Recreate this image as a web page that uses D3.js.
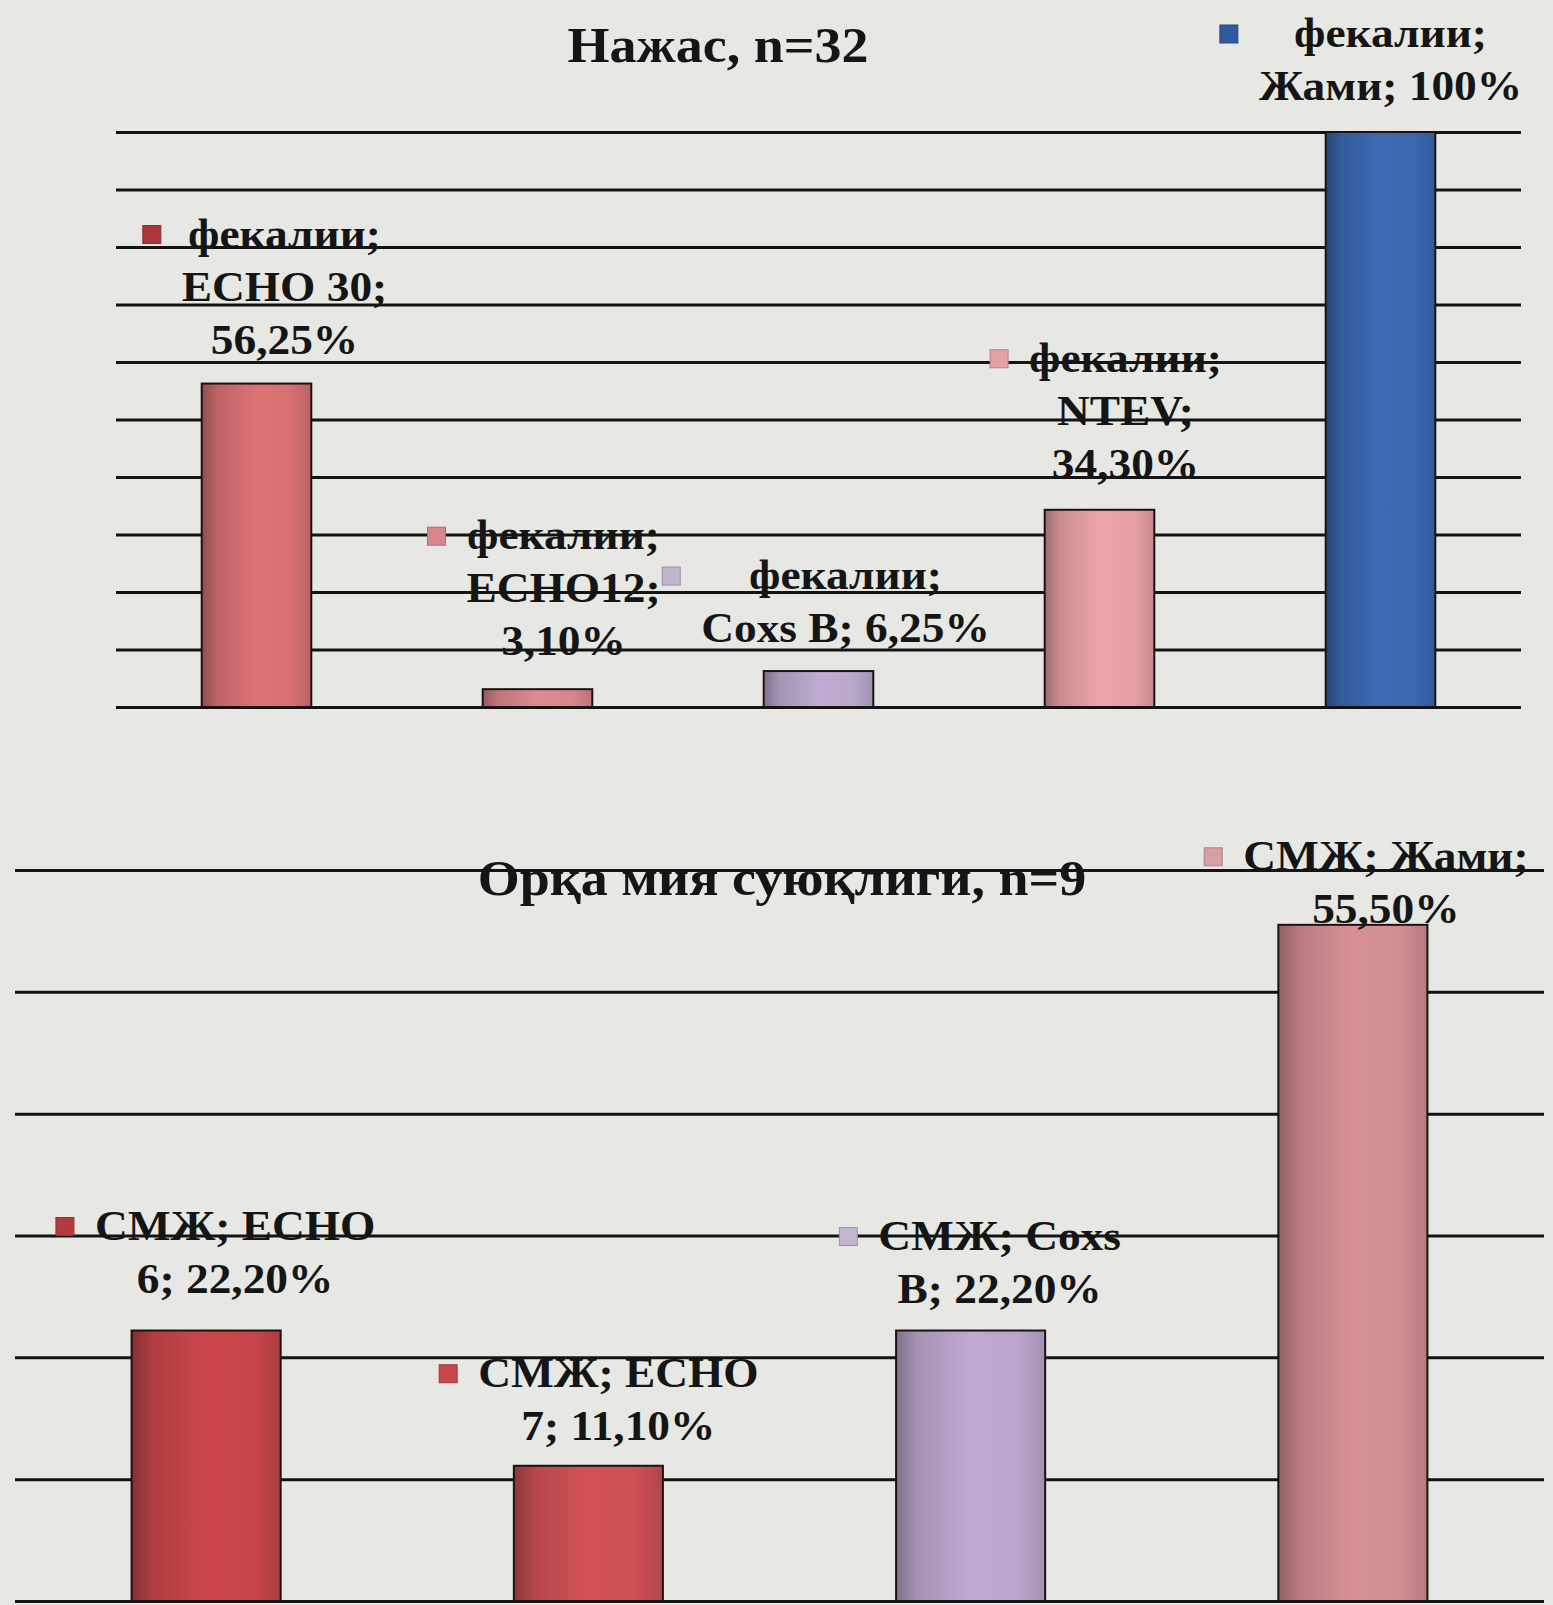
<!DOCTYPE html>
<html>
<head>
<meta charset="utf-8">
<script src="https://cdn.jsdelivr.net/npm/d3@7"></script>
<style>
  html, body { margin: 0; padding: 0; background: #e7e8e3; }
  svg { display: block; }
</style>
</head>
<body>
<svg id="chart" width="1553" height="1605"></svg>
<script>
// Stool samples, n=32
const stoolTitle = "Нажас, n=32";
const stoolSeries = "фекалии";
const stoolCategories = ["ECHO 30", "ECHO12", "Coxs B", "NTEV", "Жами"];
const stoolValues = [56.25, 3.10, 6.25, 34.30, 100];
const stoolTicks = [0, 10, 20, 30, 40, 50, 60, 70, 80, 90, 100];

// Cerebrospinal fluid, n=9
const csfTitle = "Орқа мия суюқлиги, n=9";
const csfSeries = "СМЖ";
const csfCategories = ["ECHO 6", "ECHO 7", "Coxs B", "Жами"];
const csfValues = [22.20, 11.10, 22.20, 55.50];
const csfTicks = [0, 10, 20, 30, 40, 50, 60];

// bar colours and legend-key colours
const stoolColors = ["#d77072", "#d8868c", "#b9a7cc", "#e5a0a4", "#3a67ae"];
const stoolKeyColors = ["#a8383a", "#d8868c", "#c0b4d0", "#e5a0a4", "#2f5aa0"];
const csfColors = ["#c6454a", "#cc5055", "#bba5cd", "#d18d92"];
const csfKeyColors = ["#b23a40", "#c8464c", "#c4b4d2", "#d8a0a4"];

// words per label line, label offset from bar centre, and last baseline above bar top
const stoolLabelLayout = [
  { words: [1, 2, 1], dx: 28, dy: -30 },
  { words: [1, 1, 1], dx: 26, dy: -34 },
  { words: [1, 3], dx: 27, dy: -29 },
  { words: [1, 1, 1], dx: 26, dy: -32 },
  { words: [1, 2], dx: 10, dy: -32 }
];
const csfLabelLayout = [
  { words: [2, 2], dx: 29, dy: -38 },
  { words: [2, 2], dx: 30, dy: -26 },
  { words: [2, 2], dx: 29, dy: -28 },
  { words: [2, 1], dx: 33, dy: -2 }
];

const FONT = "'Liberation Serif', 'Times New Roman', serif";
const LABEL_SIZE = 42;
const TITLE_SIZE = 50;
const STRETCH = 1.08;
const LINE_H = 53;

const svg = d3.select("#chart");
const defs = svg.append("defs");

function fmtPct(v) {
  return Number.isInteger(v) ? v + "%" : v.toFixed(2).replace(".", ",") + "%";
}

function drawPanel(cfg) {
  const x = d3.scaleBand().domain(cfg.categories).range([cfg.x0, cfg.x1]).padding(0);
  const y = d3.scaleLinear().domain([0, cfg.max]).range([cfg.yBase, cfg.yTop]);
  const bw = x.bandwidth() * 0.39;
  const g = svg.append("g");

  // horizontal gridlines
  const grid = g.append("g")
    .attr("transform", `translate(${cfg.x0},0)`)
    .call(d3.axisLeft(y).tickValues(cfg.ticks).tickSize(-(cfg.x1 - cfg.x0)).tickFormat(""));
  grid.select(".domain").remove();
  grid.selectAll(".tick line").attr("stroke", "#141414").attr("stroke-width", 3);

  // cylinder-like shading for each bar
  cfg.colors.forEach((c, i) => {
    const base = d3.color(c);
    const grad = defs.append("linearGradient")
      .attr("id", `${cfg.id}-grad-${i}`)
      .attr("x1", "0%").attr("x2", "100%").attr("y1", "0%").attr("y2", "0%");
    [[0, base.darker(1.1)], [0.14, base.darker(0.35)], [0.5, base.brighter(0.08)],
     [0.82, base], [1, base.darker(0.4)]].forEach(([o, col]) => {
      grad.append("stop").attr("offset", o).attr("stop-color", col.formatHex());
    });
  });

  // bars
  g.append("g").selectAll("rect")
    .data(cfg.values)
    .join("rect")
    .attr("x", (d, i) => x(cfg.categories[i]) + (x.bandwidth() - bw) / 2)
    .attr("y", d => y(d))
    .attr("width", bw)
    .attr("height", d => cfg.yBase - y(d))
    .attr("fill", (d, i) => `url(#${cfg.id}-grad-${i})`)
    .attr("stroke", "#1c1212")
    .attr("stroke-width", 2);

  // title
  g.append("text")
    .attr("transform", `translate(${cfg.titleX},${cfg.titleY}) scale(${STRETCH},1)`)
    .attr("text-anchor", "middle")
    .attr("font-family", FONT).attr("font-weight", "bold")
    .attr("font-size", TITLE_SIZE).attr("fill", "#151515")
    .text(cfg.title);

  // data labels with legend keys
  const lg = g.append("g");
  cfg.values.forEach((v, i) => {
    const lay = cfg.layout[i];
    const words = `${cfg.series}; ${cfg.categories[i]}; ${fmtPct(v)}`.split(" ");
    const lines = [];
    let k = 0;
    lay.words.forEach(n => { lines.push(words.slice(k, k + n).join(" ")); k += n; });
    const cx = x(cfg.categories[i]) + x.bandwidth() / 2 + lay.dx;
    const lastBase = y(v) + lay.dy;
    const firstBase = lastBase - LINE_H * (lines.length - 1);
    const t = lg.append("text")
      .attr("transform", `translate(${cx},${firstBase}) scale(${STRETCH},1)`)
      .attr("text-anchor", "middle")
      .attr("font-family", FONT).attr("font-weight", "bold")
      .attr("font-size", LABEL_SIZE).attr("fill", "#151515");
    t.selectAll("tspan").data(lines).join("tspan")
      .attr("x", 0)
      .attr("y", (d, j) => j * LINE_H)
      .text(d => d);
    let maxW = 0;
    t.selectAll("tspan").each(function () { maxW = Math.max(maxW, this.getComputedTextLength()); });
    const left = cx - maxW * STRETCH / 2;
    const key = cfg.keyColors[i];
    lg.append("rect")
      .attr("x", left - 21 - 18)
      .attr("y", firstBase - 13 - 9)
      .attr("width", 18).attr("height", 18)
      .attr("fill", key)
      .attr("stroke", d3.color(key).darker(0.6).formatHex())
      .attr("stroke-width", 1);
  });
}

drawPanel({
  id: "stool", title: stoolTitle, series: stoolSeries,
  categories: stoolCategories, values: stoolValues, ticks: stoolTicks,
  colors: stoolColors, keyColors: stoolKeyColors,
  layout: stoolLabelLayout, max: 100,
  x0: 116, x1: 1521, yBase: 707, yTop: 132, titleX: 718, titleY: 62
});

drawPanel({
  id: "csf", title: csfTitle, series: csfSeries,
  categories: csfCategories, values: csfValues, ticks: csfTicks,
  colors: csfColors, keyColors: csfKeyColors,
  layout: csfLabelLayout, max: 60,
  x0: 15, x1: 1544, yBase: 1601, yTop: 870, titleX: 782, titleY: 895
});
</script>
</body>
</html>
